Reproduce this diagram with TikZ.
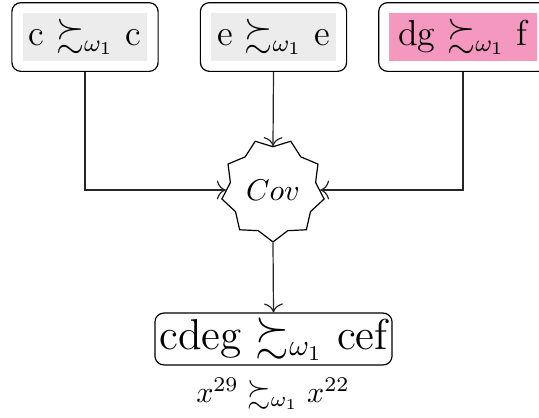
\documentclass[tikz,border=0pt]{standalone}
\usepackage{amssymb}
\usepackage{xcolor}
\usetikzlibrary{shapes.geometric, arrows.meta, positioning, fit}
\definecolor{rank-pink}{RGB}{244,152,192}
\definecolor{rank-gray}{RGB}{236,236,236}

\begin{document}
\begin{tikzpicture}[x=0.3333pt, y=-0.3333pt,
  term/.style={fill=rank-gray, font=\large, inner sep=2pt, minimum height=15.7pt},
  termbox/.style={draw, rounded corners=3pt, inner sep=3.4pt},
  link/.style={-{To[length=3pt]}, black!85}]
  \useasboundingbox (0,0) rectangle (539,417);

  % Premises
  \node[term] (cc) at (85,37) {c $\succsim_{\omega_1}$ c};
  \node[termbox, fit=(cc)] (ccbox) {};
  \node[term] (ee) at (273.5,37) {e $\succsim_{\omega_1}$ e};
  \node[termbox, fit=(ee)] (eebox) {};
  \node[term, fill=rank-pink, minimum width=49pt] (dgf) at (463,37) {dg $\succsim_{\omega_1}$ f};
  \node[termbox, fit=(dgf)] (dgfbox) {};

  % Cover
  \node[star, star points=9, star point ratio=1.2, shape border rotate=180,
        draw, minimum size=34.6pt, inner sep=0pt] (cov) at (273,190) {$Cov$};

  % Conclusion
  \node[draw, rounded corners=3pt, font=\Large, inner sep=1.5pt,
        minimum height=17.3pt] (cdeg) at (273.5,339) {cdeg $\succsim_{\omega_1}$ cef};
  \node (enc) at (273,394) {$x^{29} \succsim_{\omega_1} x^{22}$};

  % Connectors
  \draw[link] (ccbox.south) |- (cov.west);
  \draw[link] (eebox.south) -- (cov.north);
  \draw[link] (dgfbox.south) |- (cov.east);
  \draw[link] (cov.south) -- (cdeg.north);
\end{tikzpicture}
\end{document}
